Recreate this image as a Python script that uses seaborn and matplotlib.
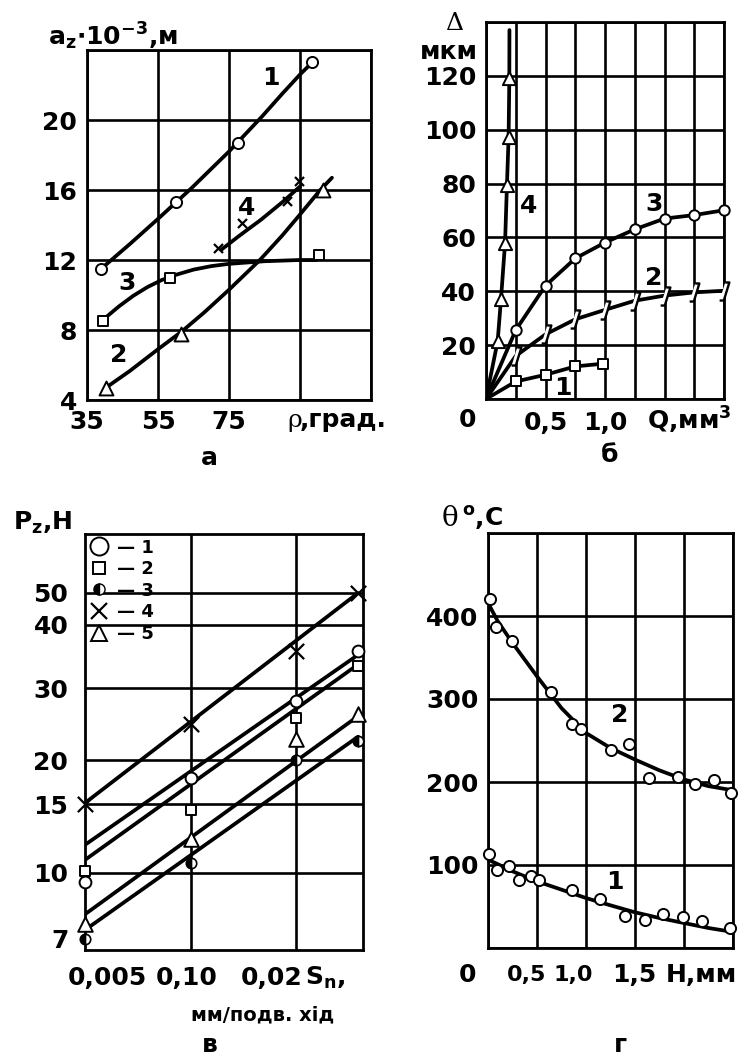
import numpy as np
import matplotlib
matplotlib.use("Agg")
import matplotlib.pyplot as plt
from matplotlib.ticker import NullLocator
from matplotlib.lines import Line2D
import seaborn as sns

# ---------------- panel а : a_z (x10^-3 m) vs rho (deg) ----------------
a_rho1 = [39.0, 60.2, 77.4, 98.5]
a_az1 = [11.5, 15.3, 18.7, 23.3]
a_line1_rho = [39.0, 47.0, 55.0, 64.4, 75.0, 84.3, 90.0, 95.0, 98.5]
a_line1_az = [11.5, 12.9, 14.35, 16.1, 18.2, 20.2, 21.5, 22.6, 23.3]

a_rho2 = [40.3, 61.6, 101.4]
a_az2 = [4.7, 7.8, 16.0]
a_line2_rho = [40.3, 47.0, 55.0, 61.6, 68.0, 75.0, 83.7, 90.0, 95.0, 100.7, 104.0]
a_line2_az = [4.7, 5.65, 6.9, 7.9, 9.0, 10.3, 12.0, 13.4, 14.6, 16.0, 16.7]

a_rho3 = [39.6, 58.3, 100.4]
a_az3 = [8.5, 11.0, 12.3]
a_line3_rho = [39.6, 44.0, 48.0, 52.0, 56.0, 60.0, 65.0, 70.0, 75.0, 85.0, 95.0, 99.7]
a_line3_az = [8.6, 9.35, 9.95, 10.45, 10.85, 11.15, 11.45, 11.65, 11.78, 11.93, 12.0, 12.0]

a_rho4 = [72.0, 78.7, 91.3, 94.7]
a_az4 = [12.7, 14.1, 15.4, 16.5]
a_line4_rho = [72.9, 78.0, 84.0, 90.0, 95.0]
a_line4_az = [12.6, 13.4, 14.3, 15.3, 16.2]

# ---------------- panel б : delta (mkm) vs Q (mm^3) ----------------
b_q = [0, 0.25, 0.5, 0.75, 1.0, 1.25, 1.5, 1.75, 2.0]
b_q1 = [0, 0.25, 0.5, 0.75, 0.98]
b_d1 = [0, 6.5, 9.0, 12.1, 13.1]
b_d2 = [0, 16.0, 24.0, 29.6, 33.1, 36.5, 38.4, 39.6, 40.2]
b_d3 = [0, 25.6, 42.1, 52.2, 58.1, 63.0, 67.0, 68.3, 70.1]
b_q4 = [0, 0.098, 0.126, 0.16, 0.176, 0.19, 0.196, 0.197]
b_d4 = [0, 21.5, 37.1, 57.8, 79.4, 97.3, 119.2, 137.0]

# ---------------- panel в : P_z (N) vs S_n ----------------
v_s = [0.005, 0.01, 0.02, 0.03]
v_p1 = [9.5, 17.8, 27.9, 35.5]
v_p2 = [10.1, 14.5, 25.4, 33.1]
v_p3 = [7.0, 10.6, 20.0, 22.2]
v_p4 = [15.0, 24.5, 35.5, 50.0]
v_p5 = [7.6, 12.2, 22.5, 25.9]
v_line_s = [0.005, 0.03]
v_l1 = [11.8, 34.9]
v_l2 = [10.8, 33.4]
v_l3 = [7.35, 22.8]
v_l4 = [15.1, 50.0]
v_l5 = [8.0, 25.6]
v_ticks = [7, 10, 15, 20, 30, 40, 50]
v_tick_pos = [11, 77, 146, 190, 262, 325, 357]   # drawn height of each tick above the axis

# ---------------- panel г : theta (C) vs H (mm) ----------------
g_h2 = [0.024, 0.082, 0.245, 0.644, 0.858, 0.947, 1.254, 1.437, 1.642, 1.942, 2.112, 2.306, 2.476]
g_t2 = [420.5, 386.7, 370.3, 308.4, 270.3, 263.9, 239.0, 245.8, 204.8, 205.6, 198.0, 202.8, 186.7]
g_h1 = [0.014, 0.095, 0.218, 0.32, 0.443, 0.524, 0.858, 1.138, 1.393, 1.601, 1.789, 1.989, 2.18, 2.466]
g_t1 = [113.7, 94.4, 98.4, 82.3, 87.1, 82.3, 69.5, 59.0, 38.2, 33.3, 41.4, 37.3, 32.1, 24.1]
g_line_h = [0, 0.1, 0.25, 0.5, 0.75, 1.0, 1.25, 1.5, 1.75, 2.0, 2.25, 2.5]
g_line2 = [415.7, 393.6, 367.5, 327.3, 289.0, 259.0, 241.0, 227.0, 214.0, 203.0, 195.0, 190.0]
g_line1 = [106.4, 101.0, 92.4, 80.3, 70.3, 60.2, 51.4, 43.0, 36.1, 30.1, 24.1, 19.3]

sns.set_theme(style="white")
plt.rcParams["font.family"] = ["DejaVu Sans"]
plt.rcParams["font.weight"] = "bold"
plt.rcParams["mathtext.default"] = "bf"
plt.rcParams["axes.linewidth"] = 2.0
for key in ("text.color", "axes.labelcolor", "xtick.color", "ytick.color", "axes.edgecolor"):
    plt.rcParams[key] = "black"

W, H = 744, 1059
fig = plt.figure(figsize=(W / 100, H / 100), dpi=100)


def rect(l, t, r, b):
    return [l / W, 1 - b / H, (r - l) / W, (b - t) / H]


def ftext(x, y, s, **kw):
    kw.setdefault("fontsize", 18)
    kw.setdefault("fontweight", "bold")
    kw.setdefault("va", "center")
    kw.setdefault("ha", "center")
    kw.setdefault("color", "black")
    fig.text(x / W, 1 - y / H, s, **kw)


def style(ax):
    ax.tick_params(length=0, labelsize=18, pad=7, colors="black")
    for lab in ax.get_xticklabels() + ax.get_yticklabels():
        lab.set_fontweight("bold")
    for sp in ax.spines.values():
        sp.set_color("black")
        sp.set_linewidth(2.0)
    ax.grid(True, color="black", linewidth=1.9)
    ax.set_axisbelow(True)
    ax.set_xlabel("")
    ax.set_ylabel("")


LW = 2.7


def curve(ax, x, y):
    sns.lineplot(x=x, y=y, ax=ax, color="black", linewidth=LW, sort=False,
                 estimator=None, zorder=3)


def pts(ax, x, y, marker, size, filled=False, lw=1.4):
    if marker in ("x",):
        sns.scatterplot(x=x, y=y, ax=ax, marker=marker, s=size ** 2, color="black",
                        linewidth=lw, zorder=4, clip_on=False)
    else:
        sns.scatterplot(x=x, y=y, ax=ax, marker=marker, s=size ** 2,
                        color="black" if filled else "white", edgecolor="black",
                        linewidth=lw, zorder=4, clip_on=False)


def label(ax, x, y, s):
    ax.text(x, y, s, fontsize=18, fontweight="bold", ha="center", va="center", color="black")


# ======================= panel а =======================
ax = fig.add_axes(rect(87, 50, 371, 400))
curve(ax, a_line1_rho, a_line1_az)
curve(ax, a_line2_rho, a_line2_az)
curve(ax, a_line3_rho, a_line3_az)
curve(ax, a_line4_rho, a_line4_az)
pts(ax, a_rho1, a_az1, "o", 8)
pts(ax, a_rho2, a_az2, "^", 10)
pts(ax, a_rho3, a_az3, "s", 7.5)
pts(ax, a_rho4, a_az4, "x", 6.5, lw=1.6)
ax.set_xlim(35, 115)
ax.set_ylim(4, 24)
ax.set_xticks([35, 55, 75, 95, 115], ["35", "55", "75", "", ""])
ax.set_yticks([4, 8, 12, 16, 20, 24], ["4", "8", "12", "16", "20", ""])
style(ax)
for s, xx, yy in [("1", 86.8, 22.4), ("4", 80.1, 15.0), ("3", 46.3, 10.7), ("2", 44.0, 6.6)]:
    label(ax, xx, yy, s)
ftext(48, 45, r"a$_{z}$$\cdot$10$^{-3}$,м", ha="left", va="baseline")
ftext(287, 420, "ρ", ha="left", fontweight="normal", family="DejaVu Serif")
ftext(300, 420, ",град.", ha="left")
ftext(209, 458, "а")

# ======================= panel б =======================
ax = fig.add_axes(rect(486, 22, 724, 399))
curve(ax, b_q1, b_d1)
curve(ax, b_q, b_d2)
curve(ax, b_q, b_d3)
curve(ax, b_q4, b_d4)
pts(ax, b_q1[1:], b_d1[1:], "s", 6.5)
slash = [(-0.7, -1.3), (-0.1, -1.3), (0.7, 1.3), (0.1, 1.3)]
pts(ax, b_q[1:], b_d2[1:], slash, 13, lw=1.7)
pts(ax, b_q[1:], b_d3[1:], "o", 7.5)
pts(ax, b_q4[1:-1], b_d4[1:-1], "^", 9.5)
ax.set_xlim(0, 2.0)
ax.set_ylim(0, 140)
xt = [0, 0.25, 0.5, 0.75, 1.0, 1.25, 1.5, 1.75, 2.0]
ax.set_xticks(xt, ["", "", "0,5", "", "1,0", "", "", "", ""])
ax.set_yticks([0, 20, 40, 60, 80, 100, 120, 140],
              ["", "20", "40", "60", "80", "100", "120", ""])
style(ax)
ax.tick_params(axis="x", pad=9)
for s, xx, yy in [("1", 0.647, 4.1), ("2", 1.41, 44.9), ("3", 1.41, 72.4), ("4", 0.36, 71.7)]:
    label(ax, xx, yy, s)
ftext(467, 420, "0")
ftext(689, 420, r"Q,мм$^{3}$")
ftext(454, 24, "Δ", fontweight="normal", family="DejaVu Serif")
ftext(449, 52, "мкм")
ftext(610, 455, "б")

# ======================= panel в =======================
LA = np.log10(v_ticks)
PP = np.array(v_tick_pos, dtype=float)


def _ext(x, xp, fp):
    x = np.asarray(x, dtype=float)
    y = np.interp(x, xp, fp)
    s0 = (fp[1] - fp[0]) / (xp[1] - xp[0])
    s1 = (fp[-1] - fp[-2]) / (xp[-1] - xp[-2])
    y = np.where(x < xp[0], fp[0] + (x - xp[0]) * s0, y)
    y = np.where(x > xp[-1], fp[-1] + (x - xp[-1]) * s1, y)
    return y


def fwd(v):
    return _ext(np.log10(np.clip(np.asarray(v, dtype=float), 1e-6, None)), LA, PP)


def inv(p):
    return 10 ** _ext(p, PP, LA)


ax = fig.add_axes(rect(85, 534, 363, 950))
ax.set_xscale("log")
ax.set_yscale("function", functions=(fwd, inv))
for yy in (v_l1, v_l2, v_l3, v_l4, v_l5):
    curve(ax, v_line_s, yy)
pts(ax, v_s, v_p1, "o", 8.5)
pts(ax, v_s, v_p2, "s", 7)
sns.lineplot(x=v_s, y=v_p3, ax=ax, marker="o", linestyle="none", fillstyle="left",
             markerfacecolor="black", markerfacecoloralt="white", markeredgecolor="black",
             markeredgewidth=1.2, markersize=7.5, estimator=None, sort=False,
             clip_on=False, zorder=4)
pts(ax, v_s, v_p4, "x", 11, lw=1.6)
pts(ax, v_s, v_p5, "^", 10.5)
ax.set_xlim(0.005, 0.031)
ax.set_ylim(float(inv(0)), float(inv(416)))
ax.set_xticks([0.01, 0.02], ["", ""])
ax.xaxis.set_minor_locator(NullLocator())
ax.yaxis.set_minor_locator(NullLocator())
ax.set_yticks(v_ticks, [str(t) for t in v_ticks])
style(ax)
ax.tick_params(axis="y", pad=12)
ax.get_ygridlines()[0].set_visible(False)
handles = [
    Line2D([], [], marker="o", linestyle="none", markersize=13, markerfacecolor="white",
           markeredgecolor="black", markeredgewidth=1.4),
    Line2D([], [], marker="s", linestyle="none", markersize=8, markerfacecolor="white",
           markeredgecolor="black", markeredgewidth=1.4),
    Line2D([], [], marker="o", linestyle="none", markersize=8, fillstyle="left",
           markerfacecolor="black", markerfacecoloralt="white", markeredgecolor="black"),
    Line2D([], [], marker="x", linestyle="none", markersize=12, color="black",
           markeredgewidth=1.6),
    Line2D([], [], marker="^", linestyle="none", markersize=11, markerfacecolor="white",
           markeredgecolor="black", markeredgewidth=1.4),
]
leg = ax.legend(handles, ["— 1", "— 2", "— 3", "— 4", "— 5"], loc="upper left",
                bbox_to_anchor=(0.0, 1.0), frameon=False, handlelength=1.0,
                handletextpad=0.5, labelspacing=0.2, borderaxespad=0.15, borderpad=0.1,
                prop={"weight": "bold", "size": 13})
for t in leg.get_texts():
    t.set_color("black")
ftext(107, 978, "0,005")
ftext(187, 978, "0,10")
ftext(272, 978, "0,02")
ftext(305, 978, r"S$_{n}$,", ha="left")
ftext(263, 1015, "мм/подв. хід", fontsize=14)
ftext(210, 1045, "в")
ftext(13, 530, r"P$_{z}$,Н", ha="left", va="baseline")

# ======================= panel г =======================
ax = fig.add_axes(rect(488, 533, 733, 948))
curve(ax, g_line_h, g_line2)
curve(ax, g_line_h, g_line1)
pts(ax, g_h2, g_t2, "o", 8)
pts(ax, g_h1, g_t1, "o", 8)
ax.set_xlim(0, 2.5)
ax.set_ylim(0, 500)
ax.set_xticks([0, 0.5, 1.0, 1.5, 2.0, 2.5], [""] * 6)
ax.set_yticks([0, 100, 200, 300, 400, 500], ["", "100", "200", "300", "400", ""])
style(ax)
for s, xx, yy in [("2", 1.34, 280.7), ("1", 1.29, 79.5)]:
    label(ax, xx, yy, s)
ftext(467, 975, "0")
ftext(527, 975, "0,5", fontsize=16)
ftext(573, 975, "1,0", fontsize=16)
ftext(634, 975, "1,5")
ftext(701, 975, "H,мм")
ftext(620, 1045, "г")
ftext(442, 518, "θ", ha="left", fontweight="normal", family="DejaVu Serif", fontsize=20)
ftext(462, 518, r"$^{o}$,С", ha="left")

fig.savefig("out.png", dpi=100, facecolor="white")
